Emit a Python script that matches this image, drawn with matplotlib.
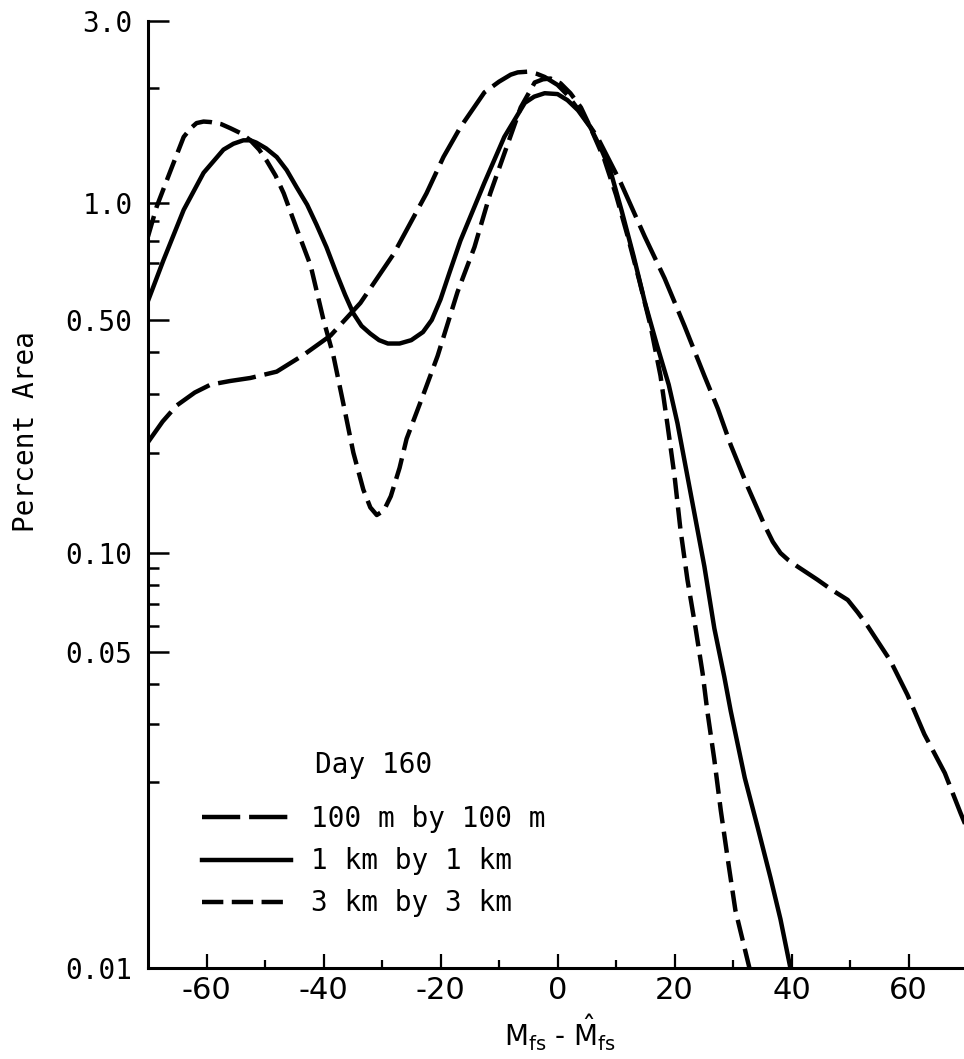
import numpy as np
import matplotlib
matplotlib.use('Agg')
import matplotlib.pyplot as plt
from matplotlib.lines import Line2D

# curve readings (x = Mfs - Mfs_hat, y = percent area)
x_100m = [-70, -67.5, -65.1, -62, -59.3, -56, -52.5, -48, -43.4, -38.8, -33.7, -28, -22.4,
          -19.5, -16.6, -12.5, -10, -8, -6.8, -5, -3.5, -2.2, 0, 1.7, 4, 6.8, 10.8, 14.9,
          18.3, 21.7, 25.1, 27.4, 29.6, 32.5, 35.4, 36.8, 38.1, 39.5, 41, 44.4, 47, 49.6,
          51.3, 53, 56.9, 59.8, 62.7, 66.2, 68.9, 70]
y_100m = [0.215, 0.248, 0.277, 0.303, 0.32, 0.328, 0.335, 0.35, 0.393, 0.449, 0.553, 0.74, 1.06,
          1.32, 1.58, 1.95, 2.08, 2.17, 2.2, 2.21, 2.18, 2.14, 2.04, 1.92, 1.72, 1.49, 1.13, 0.82,
          0.64, 0.48, 0.34, 0.271, 0.211, 0.158, 0.121, 0.108, 0.1, 0.095, 0.091, 0.083, 0.077, 0.072,
          0.066, 0.06, 0.047, 0.037, 0.028, 0.0213, 0.0178, 0.0168]

x_1km = [-70, -67.4, -63.9, -60.5, -57.1, -55.4, -53.7, -52.5, -51.5, -49.8, -48, -46.3, -44.6,
         -42.8, -41.2, -39.5, -37.8, -36.3, -34.9, -33.5, -32, -30.5, -29, -27, -25, -23, -21.5,
         -20, -18.5, -16.6, -12.5, -9.1, -5.6, -4, -2.2, 0, 1.7, 3.5, 5.6, 7.5, 9, 11, 13, 15,
         17, 19, 20.5, 22.2, 23.9, 25.1, 26.8, 28.5, 29.6, 32, 34.2, 36.4, 38.1, 39.8]
y_1km = [0.56, 0.71, 0.96, 1.2, 1.38, 1.43, 1.46, 1.46, 1.44, 1.39, 1.32, 1.22, 1.10,
         0.99, 0.88, 0.77, 0.66, 0.58, 0.52, 0.48, 0.455, 0.435, 0.425, 0.425, 0.435, 0.46, 0.5,
         0.565, 0.66, 0.8, 1.13, 1.49, 1.83, 1.9, 1.94, 1.93, 1.86, 1.75, 1.58, 1.38, 1.22, 0.95,
         0.73, 0.55, 0.42, 0.32, 0.245, 0.17, 0.118, 0.091, 0.059, 0.042, 0.033, 0.0206, 0.0169,
         0.014, 0.012, 0.01]

x_3km = [-70, -68.5, -66.2, -63.9, -62.7, -61.7, -60.5, -59.3, -57.5, -55.9, -54, -52.5, -51,
         -49.7, -48.2, -46.8, -44.6, -42.2, -40, -38.3, -36.6, -34.9, -33.2, -32, -30.9, -29.7,
         -28.5, -27, -25.8, -22.9, -20.5, -17.1, -14.2, -11.5, -8.5, -6.3, -3.9, -2.5, -1.2, 0.5,
         2.2, 4, 5.6, 8, 10, 12, 14, 15.9, 17.6, 18.8, 20, 21, 22.2, 23.6, 24.8, 25.6, 26.8,
         27.9, 29.1, 30.4, 32.8]
y_3km = [0.82, 0.98, 1.21, 1.49, 1.57, 1.62, 1.635, 1.63, 1.61, 1.57, 1.52, 1.46, 1.38,
         1.29, 1.18, 1.06, 0.86, 0.69, 0.5, 0.39, 0.28, 0.2, 0.155, 0.137, 0.13, 0.134,
         0.148, 0.18, 0.22, 0.30, 0.39, 0.59, 0.77, 1.06, 1.43, 1.78, 2.07, 2.11, 2.12, 2.06,
         1.94, 1.78, 1.58, 1.3, 1.05, 0.82, 0.63, 0.48, 0.34, 0.242, 0.17, 0.118, 0.083, 0.059,
         0.043, 0.033, 0.0234, 0.018, 0.015, 0.0124, 0.01]

y_major = [0.01, 0.05, 0.1, 0.5, 1.0, 3.0]
y_major_labels = ['0.01', '0.05', '0.10', '0.50', '1.0', '3.0']
y_minor = [0.02, 0.03, 0.04, 0.06, 0.07, 0.08, 0.09, 0.2, 0.3, 0.4, 0.7, 0.8, 0.9, 2.0]
x_major = [-60, -40, -20, 0, 20, 40, 60]
x_major_labels = ['-60', '-40', '-20', '0', '20', '40', '60']
x_minor = [-50, -30, -10, 10, 30, 50]

labels = ['100 m by 100 m', '1 km by 1 km', '3 km by 3 km']

# the original graph paper is only roughly logarithmic: calibrate it piecewise
cal_v = np.log10([0.01, 0.02, 0.05, 0.1, 0.5, 1.0, 3.0])
cal_p = np.array([0, 186, 316, 415, 648, 765, 947], dtype=float)
cal_v = np.concatenate([[-8.0], cal_v, [4.0]])
lo_slope = (cal_p[1] - cal_p[0]) / (cal_v[2] - cal_v[1])
hi_slope = (cal_p[-1] - cal_p[-2]) / (cal_v[-2] - cal_v[-3])
cal_p = np.concatenate([[cal_p[0] - lo_slope * (cal_v[1] - cal_v[0])], cal_p,
                        [cal_p[-1] + hi_slope * (cal_v[-1] - cal_v[-2])]])


def fwd(y):
    y = np.asarray(y, dtype=float)
    return np.interp(np.log10(np.clip(y, 1e-8, None)), cal_v, cal_p)


def inv(p):
    return 10 ** np.interp(np.asarray(p, dtype=float), cal_p, cal_v)


mono = 'DejaVu Sans Mono'

fig = plt.figure(figsize=(9.64, 10.59), dpi=100)
ax = fig.add_axes([148 / 964, 91 / 1059, 822 / 964, 947 / 1059])

lw = 3.2
style = dict(color='black', lw=lw, solid_joinstyle='round', dash_joinstyle='round')
ax.plot(x_100m, y_100m, dashes=(8.6, 2.0), **style)
ax.plot(x_1km, y_1km, **style)
ax.plot(x_3km, y_3km, dashes=(4.8, 1.9), **style)

ax.set_yscale('function', functions=(fwd, inv))
ax.set_ylim(0.01, 3.0)
ax.set_xlim(-70, 70.5)

ax.set_yticks(y_major, y_major_labels)
ax.set_yticks(y_minor, minor=True)
ax.set_xticks(x_major, x_major_labels)
ax.set_xticks(x_minor, minor=True)

for s in ['top', 'right']:
    ax.spines[s].set_visible(False)
for s in ['left', 'bottom']:
    ax.spines[s].set_linewidth(2.2)

ax.tick_params(axis='y', which='major', direction='in', length=15, width=1.8, pad=11)
ax.tick_params(axis='y', which='minor', direction='in', length=8, width=1.8)
ax.tick_params(axis='x', which='major', direction='in', length=10, width=1.6, pad=6)
ax.tick_params(axis='x', which='minor', direction='in', length=6, width=1.6)
for t in ax.get_yticklabels():
    t.set_fontfamily(mono)
    t.set_fontsize(20)
for t in ax.get_xticklabels():
    t.set_fontfamily('DejaVu Sans')
    t.set_fontsize(22)

ax.set_ylabel('Percent Area', fontfamily=mono, fontsize=20)
ax.yaxis.set_label_coords(-0.131, 0.566)
ax.set_xlabel(r'$\mathsf{M_{fs}}$ - $\mathsf{\hat{M}_{fs}}$', fontsize=20)
ax.xaxis.set_label_coords(0.501, -0.047)

ax.text(0.203, 0.214, 'Day 160', transform=ax.transAxes, fontfamily=mono,
        fontsize=20, va='center', ha='left')

handles = [Line2D([], [], color='black', lw=lw, dashes=(8.6, 2.0)),
           Line2D([], [], color='black', lw=lw),
           Line2D([], [], color='black', lw=lw, dashes=(4.8, 1.9))]
ax.legend(handles, labels, loc='upper left', bbox_to_anchor=(0.0657, 0.172),
          frameon=False, borderpad=0, borderaxespad=0, handlelength=3.2,
          handletextpad=0.72, labelspacing=0.51, prop={'family': mono, 'size': 20})

fig.savefig('out.png', dpi=100)
